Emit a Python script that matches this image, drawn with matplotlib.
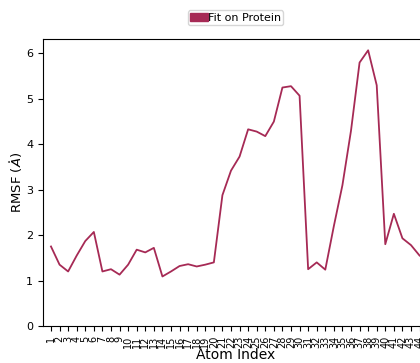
import matplotlib
matplotlib.use("Agg")
import matplotlib.pyplot as plt
from matplotlib.patches import Patch

# RMSF per atom after fitting on the protein
atom_index = list(range(1, 45))
rmsf = [1.75, 1.35, 1.20, 1.55, 1.87, 2.07, 1.20, 1.25, 1.13, 1.35,
        1.68, 1.62, 1.72, 1.09, 1.20, 1.32, 1.36, 1.31, 1.35, 1.40,
        2.88, 3.42, 3.73, 4.33, 4.28, 4.18, 4.50, 5.25, 5.28, 5.07,
        1.25, 1.40, 1.24, 2.20, 3.10, 4.30, 5.80, 6.07, 5.30, 1.80,
        2.47, 1.93, 1.78, 1.55]
series_name = "Fit on Protein"
line_color = "#a62a55"

fig = plt.figure(figsize=(4.2, 3.63), dpi=100)
ax = fig.add_axes([0.1024, 0.102, 0.917, 0.7906])

ax.plot(atom_index, rmsf, color=line_color, linewidth=1.3)
ax.set_xlim(0.07, 45)
ax.set_ylim(bottom=0)
ax.set_xticks(atom_index)
ax.set_xticklabels([str(i) for i in atom_index], rotation=90, fontsize=7)
ax.tick_params(axis="y", labelsize=8)
ax.set_xlabel("Atom Index", fontsize=10, labelpad=0)
ax.set_ylabel(r"RMSF ($\mathring{A}$)", fontsize=9.5, labelpad=1)

handle = Patch(color=line_color, label=series_name)
ax.legend(handles=[handle], loc="lower center", bbox_to_anchor=(0.5, 1.03),
          fontsize=8, handletextpad=0.0, borderpad=0.2, handlelength=1.6,
          frameon=True)

fig.savefig("out.png", dpi=100)
